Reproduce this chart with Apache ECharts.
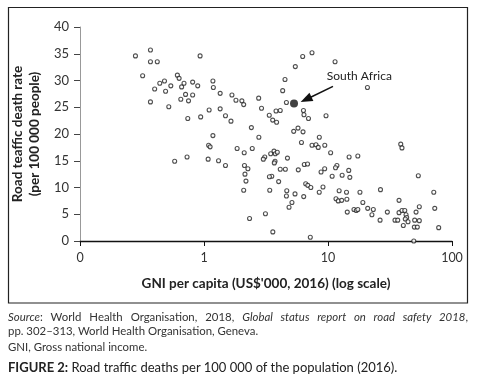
<!DOCTYPE html>
<html>
<head>
<meta charset="utf-8">
<script src="https://cdn.jsdelivr.net/npm/echarts@6/dist/echarts.min.js"></script>
<style>
  body { margin: 0; background: #fff; }
  #chart { position: absolute; left: 0; top: 0; width: 480px; height: 385px; }
  #notes { position: absolute; left: 8px; top: 310px; width: 460px; font-family: Lato, sans-serif; color: #333; }
  #notes .fn { font-size: 11.4px; line-height: 13.7px; }
  #notes .just { text-align: justify; text-align-last: justify; }
  #notes .gap { margin-top: 3px; }
  #notes .fig { font-size: 13px; margin-top: 5px; color: #222; }
</style>
</head>
<body>
<div id="chart"></div>
<div id="notes">
  <div class="fn just"><i>Source</i>: World Health Organisation, 2018, <i>Global status report on road safety 2018</i>,</div>
  <div class="fn">pp. 302–313, World Health Organisation, Geneva.</div>
  <div class="fn gap">GNI, Gross national income.</div>
  <div class="fig"><b>FIGURE 2:</b> Road traffic deaths per 100 000 of the population (2016).</div>
</div>
<script>
// GNI per capita (US$'000) and road traffic death rate
const gni = [
  0.28, 0.37, 0.37, 0.42, 0.93, 0.32, 0.37, 0.40, 0.44, 0.48, 0.49, 0.54, 0.52, 0.61, 0.63,
  0.66, 0.69, 0.65, 0.71, 0.75, 0.81, 0.81, 0.89, 0.74, 0.94, 0.58, 0.73, 1.10, 1.18, 1.19,
  1.35, 1.35, 1.49, 1.65, 1.68, 1.81, 1.18, 1.09, 1.12, 1.08, 1.31, 1.49, 1.85,
  2.02, 2.09, 2.76, 2.91, 2.41, 2.77, 2.11, 2.45, 2.12, 2.26, 2.14, 2.18, 2.09, 2.33, 3.13,
  3.59, 3.39, 3.52, 3.37, 4.00, 4.12, 4.53, 3.09, 3.01, 3.45, 3.67, 3.76, 3.90, 3.74, 3.69,
  4.71, 4.65, 4.62, 5.12, 4.85, 5.42, 6.37, 5.76, 6.44, 6.84, 6.61, 6.87, 7.27, 5.29, 5.73,
  6.29, 6.11, 7.43, 8.00, 8.34, 8.51, 9.42, 10.5, 9.64, 6.96, 6.34, 6.40,
  4.62, 4.31, 4.50, 5.45, 6.25, 7.43, 11.4, 20.8, 3.36, 3.58, 3.85, 3.81, 4.12, 14.8, 17.4,
  8.79, 9.40, 11.8, 11.5, 10.8, 13.0, 14.7, 15.0, 8.50, 9.11, 12.3, 14.1, 18.1, 26.5, 11.6,
  12.1, 12.9, 14.2, 19.1, 14.3, 16.2, 16.9, 17.4, 20.9, 23.2, 22.6, 30.1, 26.3, 34.7, 36.5,
  37.4, 37.4, 7.20,
  38.6, 39.5, 53.5, 71.3, 54.5, 39.5, 41.6, 42.6, 43.1, 42.0, 44.2, 51.3, 72.6, 40.5, 50.0,
  54.5, 49.7, 52.5, 78.1, 49.2
]
const deaths = [
  34.6, 35.7, 33.5, 33.5, 34.6, 30.9, 26.0, 28.4, 29.5, 29.9, 28.0, 29.0, 25.1, 31.0, 30.4,
  28.8, 29.5, 26.5, 27.4, 26.2, 29.7, 27.3, 29.0, 22.9, 23.2, 14.9, 15.7, 24.5, 29.9, 28.7,
  27.6, 24.7, 23.4, 22.4, 27.3, 26.3, 19.7, 17.9, 17.6, 15.3, 15.0, 14.1, 17.3,
  26.2, 25.5, 26.7, 24.8, 21.2, 19.4, 16.5, 17.3, 14.1, 13.5, 12.5, 11.2, 9.5, 4.2, 5.1,
  1.7, 9.5, 12.1, 12.0, 11.1, 13.4, 13.4, 15.7, 15.3, 16.3, 16.8, 16.3, 16.6, 14.9, 14.6,
  15.5, 9.4, 8.4, 7.2, 6.3, 8.8, 8.3, 13.3, 14.3, 14.4, 10.7, 10.4, 10.0, 20.5, 21.1,
  20.4, 18.4, 17.9, 18.0, 17.5, 19.4, 17.9, 16.5, 23.4, 22.9, 24.4, 23.6,
  25.9, 28.1, 30.2, 32.6, 34.5, 35.2, 33.5, 28.7, 23.5, 22.6, 22.2, 24.3, 24.4, 15.7, 15.9,
  12.9, 13.5, 14.1, 13.7, 12.1, 12.3, 13.2, 11.9, 9.1, 10.1, 9.4, 9.1, 9.1, 9.6, 7.9,
  7.5, 7.6, 7.8, 7.2, 5.4, 5.9, 5.7, 5.9, 6.1, 5.9, 4.9, 5.4, 3.9, 3.9, 3.9,
  7.6, 5.3, 0.7,
  18.1, 17.4, 12.2, 9.1, 6.4, 5.7, 5.7, 4.9, 4.4, 4.1, 3.6, 5.4, 6.1, 2.9, 3.9,
  3.8, 2.6, 2.6, 2.5, 0
]
const southAfrica = [5.32, 25.7]
const arrowFrom = [10.97, 28.9]
const arrowTo = [6.65, 26.45]
const labelAt = [17.9, 30.8]
const xTickLabels = ['0', '1', '10', '100']

const chart = echarts.init(document.getElementById('chart'))

const option = {
  animation: false,
  textStyle: { fontFamily: 'Lato, sans-serif' },
  grid: { left: 80, right: 28, top: 27, bottom: 144 },
  graphic: [
    {
      type: 'rect',
      shape: { x: 8.5, y: 7.5, width: 459, height: 295.5 },
      style: { fill: 'none', stroke: '#222', lineWidth: 1.2 },
      silent: true
    }
  ],
  xAxis: {
    type: 'log',
    logBase: 10,
    min: 0.1,
    max: 100,
    name: "GNI per capita (US$'000, 2016) (log scale)",
    nameLocation: 'middle',
    nameGap: 36,
    nameTextStyle: { fontSize: 13.5, fontWeight: 'bold', color: '#222' },
    axisLine: { lineStyle: { color: '#111', width: 1.3 } },
    axisTick: { show: true, inside: false, length: 5, lineStyle: { color: '#111' } },
    axisLabel: {
      fontSize: 12.5,
      color: '#333',
      margin: 10,
      formatter: (value, index) => xTickLabels[index]
    },
    splitLine: { show: false },
    minorTick: { show: false }
  },
  yAxis: {
    type: 'value',
    min: 0,
    max: 40,
    interval: 5,
    name: 'Road teaffic death rate\n(per 100 000 people)',
    nameLocation: 'middle',
    nameGap: 33,
    nameTextStyle: { fontSize: 13.5, fontWeight: 'bold', color: '#222', lineHeight: 17 },
    axisLine: { show: true, lineStyle: { color: '#999', width: 1 } },
    axisTick: { show: true, length: 6, lineStyle: { color: '#444' } },
    axisLabel: { fontSize: 13, color: '#333', margin: 11 },
    splitLine: { show: false }
  },
  series: [
    {
      name: 'Countries',
      type: 'scatter',
      data: gni.map((g, i) => [g, deaths[i]]),
      symbol: 'circle',
      symbolSize: 4,
      itemStyle: { color: '#fff', borderColor: '#222', borderWidth: 1.1 }
    },
    {
      name: 'South Africa',
      type: 'scatter',
      data: [southAfrica],
      symbol: 'circle',
      symbolSize: 8,
      z: 5,
      itemStyle: { color: '#111' },
      markLine: {
        silent: true,
        symbol: ['none', 'triangle'],
        symbolSize: [9, 12],
        label: { show: false },
        lineStyle: { color: '#111', width: 1.6, type: 'solid' },
        data: [[{ coord: arrowFrom }, { coord: arrowTo }]]
      },
      markPoint: {
        silent: true,
        symbol: 'circle',
        symbolSize: 0,
        label: {
          show: true,
          position: 'inside',
          formatter: 'South Africa',
          fontSize: 12,
          color: '#222'
        },
        data: [{ coord: labelAt }]
      }
    }
  ]
}

chart.setOption(option)

window.addEventListener('resize', () => {
  chart.resize()
})
</script>
</body>
</html>
